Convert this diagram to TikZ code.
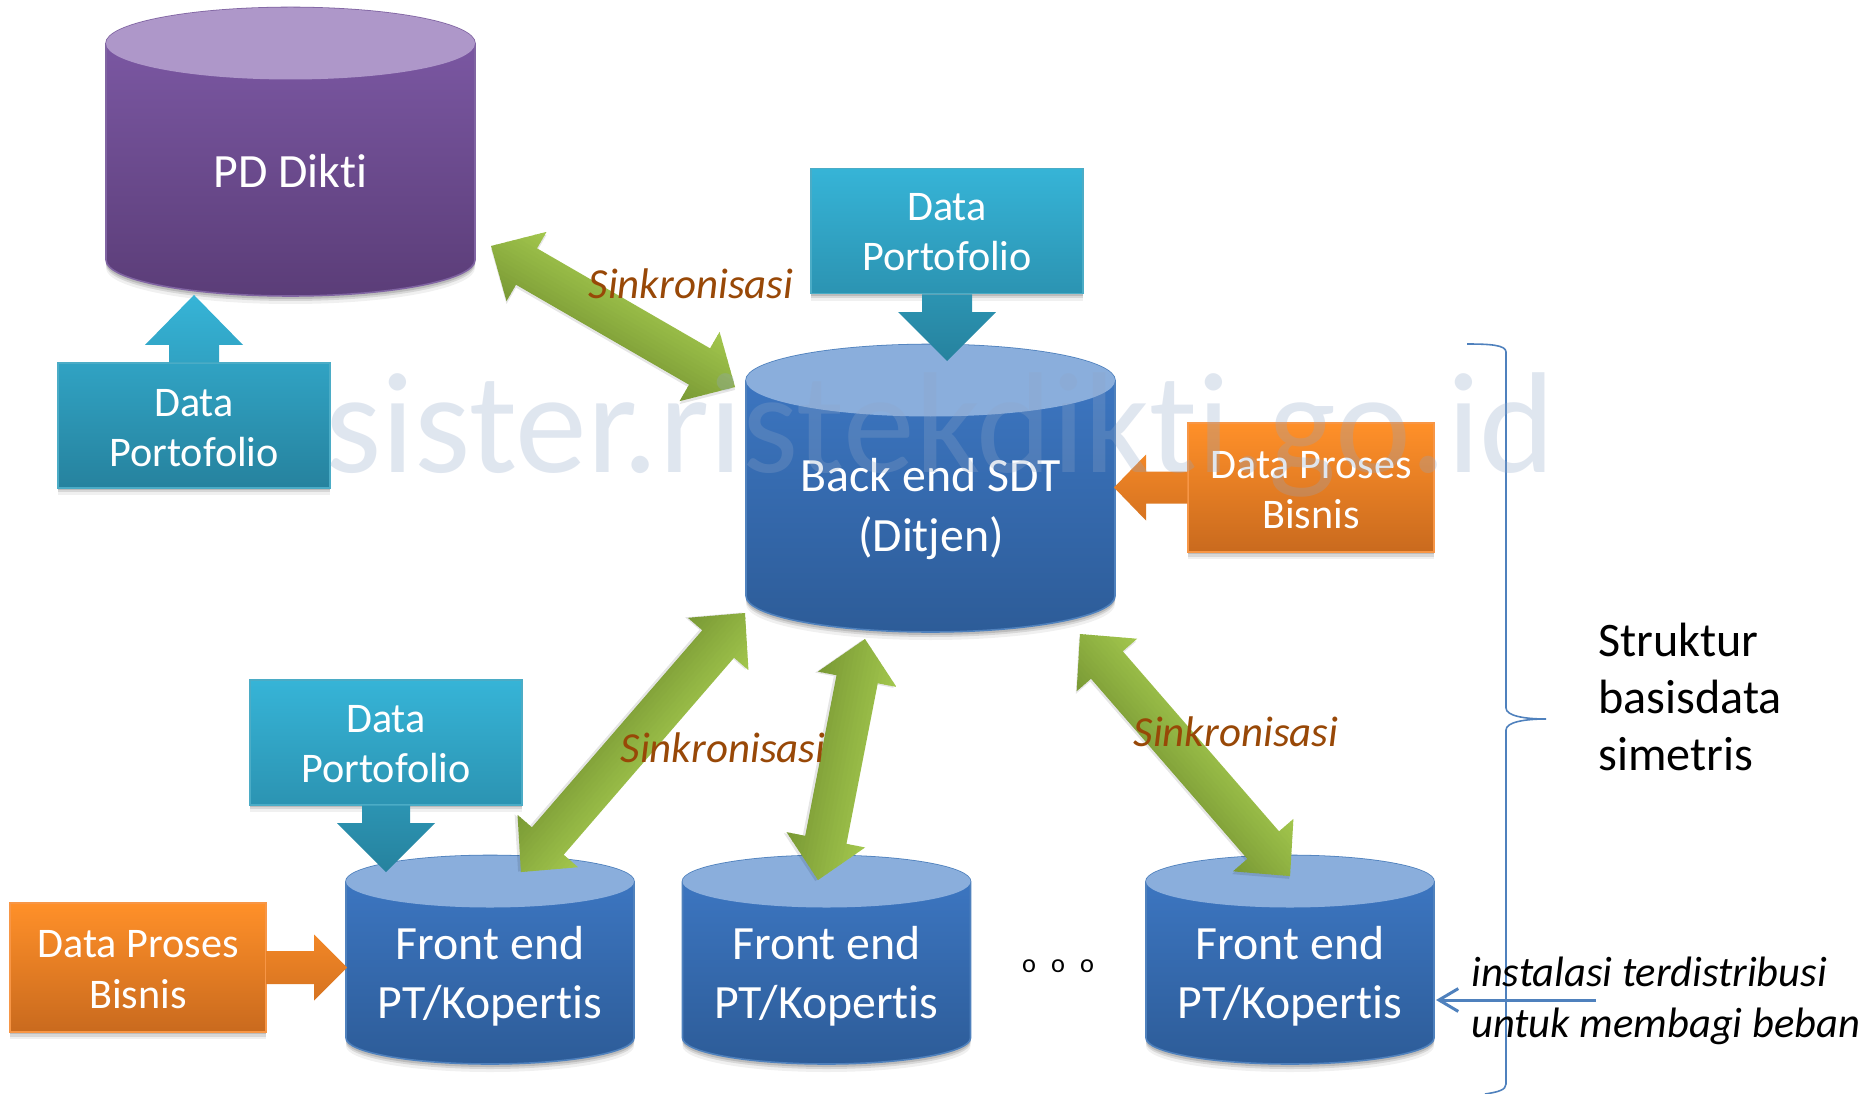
\documentclass[tikz,border=0pt]{standalone}
\usepackage{fontspec}
\setmainfont{Carlito}[Ligatures=NoCommon]
\usetikzlibrary{calc,shadows,arrows.meta}
\definecolor{blueA}{HTML}{3E79C6}\definecolor{blueB}{HTML}{2D5C98}\definecolor{blueT}{HTML}{8AAEDC}\definecolor{blueL}{HTML}{4F81BD}
\definecolor{purpA}{HTML}{7F5BA8}\definecolor{purpB}{HTML}{5B3D78}\definecolor{purpT}{HTML}{AE97C9}\definecolor{purpL}{HTML}{8064A2}
\definecolor{tealA}{HTML}{36B4D7}\definecolor{tealB}{HTML}{26829E}\definecolor{tealL}{HTML}{4BACC6}
\definecolor{orgA}{HTML}{FF9029}\definecolor{orgB}{HTML}{C96A1E}\definecolor{orgL}{HTML}{F79646}
\definecolor{grnL}{HTML}{A2C64D}\definecolor{grnD}{HTML}{7A9A35}
\definecolor{sync}{HTML}{984807}\definecolor{wm}{HTML}{8FA6C8}
\newcommand{\txtdown}[1]{\rule{0pt}{\dimexpr15.4pt+2\dimexpr#1\relax\relax}}
\tikzset{
  softshadow/.style={drop shadow={shadow xshift=0pt,shadow yshift=-1.2pt,fill=black,opacity=.13},drop shadow={shadow xshift=0pt,shadow yshift=-2.6pt,fill=black,opacity=.10},drop shadow={shadow xshift=0pt,shadow yshift=-4pt,fill=black,opacity=.06}},
  tealbox/.style={rectangle,draw=tealL,line width=.8pt,softshadow,text=white,align=center,inner sep=0pt,font=\fontsize{24}{28.8}\selectfont},
  orgbox/.style={rectangle,draw=orgL,line width=.8pt,softshadow,top color=orgA,bottom color=orgB,text=white,align=center,inner sep=0pt,font=\fontsize{24}{28.8}\selectfont},
  cyltext/.style={text=white,align=center,inner sep=0pt,font=\fontsize{27.2}{33.6}\selectfont},
  synclabel/.style={text=sync,inner sep=0pt,font=\fontsize{24.4}{28}\selectfont\itshape},
  notelabel/.style={text=black,align=left,anchor=west,inner sep=0pt,font=\fontsize{24.2}{29}\selectfont\itshape},
  sidelabel/.style={text=black,align=left,anchor=west,inner sep=0pt,font=\fontsize{27.4}{32.5}\selectfont},
  watermark/.style={text=wm,text opacity=.28,anchor=base west,inner sep=0pt,font=\fontsize{81.8}{90}\selectfont},
  thinblue/.style={draw=blueL,line width=.9pt},
  pointer/.style={draw=blueL,line width=1.7pt,-{Straight Barb[length=11pt,width=13pt]}}
}
% name, cx, top ellipse centre y, bottom ellipse centre y, rx, ry, colour prefix
\newcommand{\dbcyl}[7]{%
  \pgfmathsetmacro\cylL{#2-#5}\pgfmathsetmacro\cylR{#2+#5}%
  \pgfmathsetmacro\cylXl{#2-.5523*#5}\pgfmathsetmacro\cylXr{#2+.5523*#5}%
  \pgfmathsetmacro\cylTe{#3-#6}\pgfmathsetmacro\cylTl{#3+#6}%
  \pgfmathsetmacro\cylTu{#3-.5523*#6}\pgfmathsetmacro\cylTd{#3+.5523*#6}%
  \pgfmathsetmacro\cylBe{#4+#6}\pgfmathsetmacro\cylBk{#4+.5523*#6}%
  \def\cylbody{(\cylL,#3) -- (\cylL,#4) .. controls (\cylL,\cylBk) and (\cylXl,\cylBe) .. (#2,\cylBe) .. controls (\cylXr,\cylBe) and (\cylR,\cylBk) .. (\cylR,#4) -- (\cylR,#3) .. controls (\cylR,\cylTu) and (\cylXr,\cylTe) .. (#2,\cylTe) .. controls (\cylXl,\cylTe) and (\cylL,\cylTu) .. (\cylL,#3) -- cycle}%
  \foreach \cs/\co in {3/.13,5/.10,8/.06}{\fill[black,opacity=\co,shift={(0,\cs)}] \cylbody;}%
  \shade[top color=#7A,bottom color=#7B,draw=#7L,line width=.9pt] \cylbody;%
  \fill[#7T] (\cylL,#3) .. controls (\cylL,\cylTd) and (\cylXl,\cylTl) .. (#2,\cylTl) .. controls (\cylXr,\cylTl) and (\cylR,\cylTd) .. (\cylR,#3) .. controls (\cylR,\cylTu) and (\cylXr,\cylTe) .. (#2,\cylTe) .. controls (\cylXl,\cylTe) and (\cylL,\cylTu) .. (\cylL,#3) -- cycle;%
  \coordinate (#1) at (#2,#3);%
}
\newcommand{\getaxis}[2]{%
  \path let \p1=(#1),\p2=(#2),\n1={atan2(\y2-\y1,\x2-\x1)},\n2={veclen(\x2-\x1,\y2-\y1)/0.569055} in \pgfextra{\pgfmathsetmacro\tmpang{\n1}\pgfmathsetmacro\tmplen{\n2}\xdef\axang{\tmpang}\xdef\axlen{\tmplen}};%
}
% from, to, shaft half width, head half width, head length, shading options
\newcommand{\blockarrow}[6]{%
  \getaxis{#1}{#2}%
  \pgfmathsetmacro\hb{\axlen-#5}%
  \shade[#6,line width=.6pt] [shift={(#1)},rotate=\axang] (0,-#3) -- (\hb,-#3) -- (\hb,-#4) -- (\axlen,0) -- (\hb,#4) -- (\hb,#3) -- (0,#3) -- cycle;%
}
% two-headed green connector between named tips
\newcommand{\syncarrow}[2]{%
  \getaxis{#1}{#2}%
  \pgfmathsetmacro\hb{\axlen-41}\pgfmathsetmacro\ha{41}%
  \begin{scope}[shift={(#1)},rotate=\axang]
    \fill[black,opacity=.10,shift={(1.5,2.5)}] (0,0) -- (\ha,-40) -- (\ha,-21) -- (\hb,-21) -- (\hb,-40) -- (\axlen,0) -- (\hb,40) -- (\hb,21) -- (\ha,21) -- (\ha,40) -- cycle;
    \clip (0,0) -- (\ha,-40) -- (\ha,-21) -- (\hb,-21) -- (\hb,-40) -- (\axlen,0) -- (\hb,40) -- (\hb,21) -- (\ha,21) -- (\ha,40) -- cycle;
    \foreach \i in {0,...,19}{%
      \pgfmathsetmacro\gmix{100-\i*100/19}\pgfmathsetmacro\ga{-40+\i*4}\pgfmathsetmacro\gb{\ga+4.6}%
      \fill[grnL!\gmix!grnD] (-5,\ga) rectangle (\axlen+5,\gb);}
  \end{scope}%
}
\begin{document}
\begin{tikzpicture}[x=0.02cm,y=-0.02cm]
\fill[white] (0,0) rectangle (1871,1094);
\useasboundingbox (0,0) rectangle (1871,1094);
\colorlet{tealU}{tealA!65!tealB}
\colorlet{tealV}{tealA!35!tealB}

% cylinders
\dbcyl{pddikti}{290.5}{43.5}{260}{184.5}{36}{purp}
\dbcyl{backend}{930.5}{380.5}{596}{184.5}{36}{blue}
\dbcyl{fe1}{490}{881.5}{1038}{144}{26}{blue}
\dbcyl{fe2}{826.5}{881.5}{1038}{144}{26}{blue}
\dbcyl{fe3}{1290}{881.5}{1038}{144}{26}{blue}
\node[cyltext] (tpd) at (290.5,171) {PD Dikti};
\node[cyltext] (tbe) at (931,509) {Back end SDT\\(Ditjen)};
\node[cyltext] (tfe1) at (490,976.5) {Front end\\PT/Kopertis};
\node[cyltext] (tfe2) at (826.5,976.5) {Front end\\PT/Kopertis};
\node[cyltext] (tfe3) at (1290,976.5) {Front end\\PT/Kopertis};

% boxes
\node[tealbox,top color=tealU,bottom color=tealB,minimum width=154.6pt,minimum height=71pt] (dp1) at (194,425.5) {\txtdown{1.4pt}Data\\Portofolio};
\node[tealbox,top color=tealA,bottom color=tealV,minimum width=154.6pt,minimum height=71.4pt] (dp2) at (947,231) {\txtdown{.6pt}Data\\Portofolio};
\node[tealbox,top color=tealA,bottom color=tealV,minimum width=154.6pt,minimum height=71pt] (dp3) at (386,742.5) {\txtdown{.9pt}Data\\Portofolio};
\node[orgbox,minimum width=140pt,minimum height=73.4pt] (pb1) at (1311,487.5) {\txtdown{1.4pt}Data Proses\\Bisnis};
\node[orgbox,minimum width=145.7pt,minimum height=73.4pt] (pb2) at (138,967.5) {\txtdown{1.2pt}Data Proses\\Bisnis};

% arrow tips
\coordinate (tipa) at (194,295);
\coordinate (tipb) at (947,361);
\coordinate (tipc) at (386,872);
\coordinate (tipd) at (1114,487.5);
\coordinate (tipe) at (347,967.5);
\coordinate (a1) at (491,246);  \coordinate (a2) at (735,387);
\coordinate (b1) at (745,613);  \coordinate (b2) at (521,872);
\coordinate (c1) at (865,639);  \coordinate (c2) at (818,880);
\coordinate (d1) at (1080,634); \coordinate (d2) at (1290,876);

% block arrows
\blockarrow{dp1.north}{tipa}{25}{49}{50}{top color=tealA,bottom color=tealU}
\blockarrow{dp2.south}{tipb}{25}{49}{49}{top color=tealV,bottom color=tealB}
\blockarrow{dp3.south}{tipc}{24}{49}{49}{top color=tealV,bottom color=tealB}
\blockarrow{pb1.west}{tipd}{16}{33}{32}{top color=orgA!76!orgB,bottom color=orgA!24!orgB}
\blockarrow{pb2.east}{tipe}{16.5}{33}{33}{top color=orgA!76!orgB,bottom color=orgA!24!orgB}

% synchronisation arrows
\syncarrow{a1}{a2}
\syncarrow{b1}{b2}
\syncarrow{c1}{c2}
\syncarrow{d1}{d2}
\node[synclabel] (s1) at (691,284) {Sinkronisasi};
\node[synclabel] (s2) at (723,748) {Sinkronisasi};
\node[synclabel] (s3) at (1236,732) {Sinkronisasi};

% dots
\node[inner sep=0pt,font=\fontsize{15}{18}\selectfont] (dots) at (1058,966) {o\hspace{8.6pt}o\hspace{8.6pt}o};

% brace
\draw[thinblue] (1467,344) .. controls (1490,344) and (1506,345) .. (1506,352) -- (1506,708) .. controls (1506,716) and (1525,719) .. (1546,719) .. controls (1525,719) and (1506,722) .. (1506,730) -- (1506,1084) .. controls (1506,1090) and (1498,1092) .. (1485,1094);
\node[sidelabel] (struk) at (1598,697) {Struktur\\basisdata\\simetris};

% note
\node[notelabel] (inst) at (1471,1001) {instalasi terdistribusi\\untuk membagi beban};
\coordinate (ptrs) at (1596,1000);
\coordinate (ptre) at (1436,1000);
\draw[pointer] (ptrs) -- (ptre);

% watermark
\node[watermark] (wmk) at (325,472) {sister.ristekdikti.go.id};
\end{tikzpicture}
\end{document}
